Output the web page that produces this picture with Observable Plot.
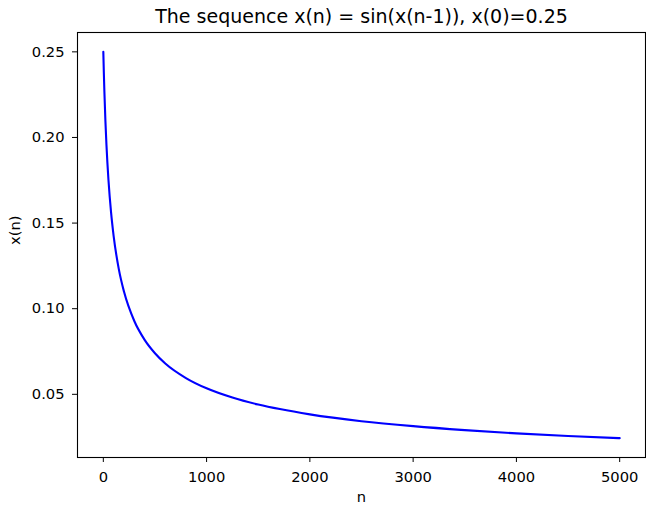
<!DOCTYPE html>
<html>
<head>
<meta charset="utf-8">
<script src="https://cdn.jsdelivr.net/npm/d3@7"></script>
<script src="https://cdn.jsdelivr.net/npm/@observablehq/plot@0.6"></script>
<style>
  html, body { margin: 0; padding: 0; background: #fff; }
  svg { display: block; }
</style>
</head>
<body>
<div id="chart"></div>
<script>
const titleText = "The sequence x(n) = sin(x(n-1)), x(0)=0.25";
const xLabel = "n";
const yLabel = "x(n)";
const nValues = [0, 5, 10, 20, 30, 50, 75, 100, 150, 200, 300, 400, 500, 600, 800, 1000, 1250, 1500, 2000, 2500, 3000, 3500, 4000, 4500, 5000];
const xnValues = [0.25, 0.2379, 0.2274, 0.2100, 0.1961, 0.1750, 0.1562, 0.1424, 0.1231, 0.1100, 0.0928, 0.0818, 0.0740, 0.0680, 0.0595, 0.0535, 0.0481, 0.0440, 0.0383, 0.0343, 0.0314, 0.0291, 0.0272, 0.0257, 0.0244];
const xTicks = [0, 1000, 2000, 3000, 4000, 5000];
const yTicks = [0.05, 0.10, 0.15, 0.20, 0.25];

const data = nValues.map((n, i) => ({n, x: xnValues[i]}));

const font = "DejaVu Sans, sans-serif";
const fs = 14.7;
const chart = Plot.plot({
  width: 646,
  height: 506,
  marginTop: 32,
  marginBottom: 49,
  marginLeft: 77,
  marginRight: 1,
  style: {fontFamily: font, fontSize: fs + "px", color: "#000", background: "#fff"},
  x: {domain: [-250, 5250]},
  y: {domain: [0.0131, 0.2613]},
  marks: [
    Plot.line(data, {x: "n", y: "x", stroke: "#0000ff", strokeWidth: 2.1, curve: "monotone-x"}),
    Plot.frame({stroke: "#000", strokeWidth: 1.1}),
    Plot.axisX({ticks: xTicks, tickFormat: d => String(d), tickSize: 5, tickPadding: 9, label: null, fontSize: fs, stroke: "#000"}),
    Plot.axisY({ticks: yTicks, tickFormat: d => d.toFixed(2), tickSize: 5, tickPadding: 8, label: null, fontSize: fs, stroke: "#000"}),
    Plot.text([titleText], {frameAnchor: "top", dy: -15.4, fontSize: 19, fill: "#000", lineAnchor: "middle"}),
    Plot.text([xLabel], {frameAnchor: "bottom", dy: 39.5, fontSize: fs, fill: "#000", lineAnchor: "middle"}),
    Plot.text([yLabel], {frameAnchor: "left", dx: -62, rotate: -90, fontSize: fs, fill: "#000", lineAnchor: "middle"})
  ]
});
document.getElementById("chart").appendChild(chart);
</script>
</body>
</html>
